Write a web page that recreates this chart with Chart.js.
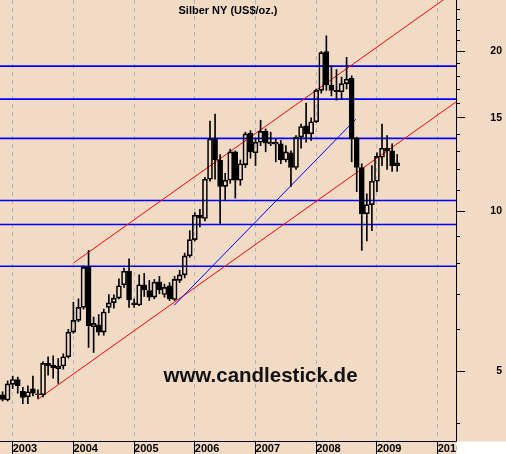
<!DOCTYPE html>
<html>
<head>
<meta charset="utf-8">
<script src="https://cdn.jsdelivr.net/npm/chart.js@4.4.0/dist/chart.umd.min.js"></script>
<style>
  html, body { margin: 0; padding: 0; background: #f2dbc4; }
  #wrap { width: 506px; height: 454px; }
</style>
</head>
<body>
<div id="wrap"><canvas id="myChart"></canvas></div>
<script>
// monthly candles, Nov 2002 .. May 2009
const firstMonth = 2002 + 10 / 12;
const open = [
  4.52, 4.42,
  4.73, 4.83, 4.59, 4.48, 4.64, 4.52, 4.52, 5.18, 5.14, 5.06, 5.12, 5.33,
  5.93, 6.24, 6.60, 7.85, 6.07, 6.12, 5.93, 6.60, 6.74, 6.87, 7.28, 7.72,
  6.73, 6.67, 7.28, 7.10, 6.90, 7.37, 6.98, 7.25, 6.83, 7.42, 7.60, 8.25,
  8.85, 9.84, 9.70, 11.5, 13.7, 12.5, 11.15, 11.45, 12.95, 11.45, 12.25, 14.05,
  12.9, 13.5, 14.15, 13.4, 13.5, 13.4, 12.5, 12.9, 12.1, 13.8, 14.5, 14.0,
  14.75, 16.9, 20.0, 17.3, 16.9, 16.8, 17.4, 17.8, 13.75, 12.1, 9.9, 10.3,
  11.4, 12.65, 13.15, 13.0, 12.2
];
const high = [
  4.58, 4.80,
  4.90, 4.88, 4.67, 4.70, 4.90, 4.62, 5.22, 5.33, 5.35, 5.29, 5.40, 6.00,
  6.75, 6.85, 7.90, 8.45, 6.33, 6.40, 6.55, 6.98, 6.97, 7.47, 7.83, 8.15,
  6.85, 7.60, 7.65, 7.42, 7.45, 7.55, 7.30, 7.35, 7.55, 7.75, 8.35, 9.20,
  9.95, 10.1, 11.6, 14.8, 15.25, 12.8, 11.8, 13.1, 13.0, 12.5, 14.1, 14.2,
  13.7, 14.85, 14.3, 14.1, 13.7, 13.6, 13.3, 13.0, 13.9, 14.6, 16.0, 15.0,
  17.0, 20.0, 21.4, 18.8, 18.5, 17.9, 19.5, 18.0, 13.8, 12.3, 10.8, 12.2,
  12.9, 14.6, 13.9, 13.4, 12.8
];
const low = [
  4.40, 4.40,
  4.64, 4.55, 4.35, 4.35, 4.50, 4.45, 4.48, 4.92, 4.86, 4.75, 5.05, 5.30,
  5.90, 6.20, 6.55, 5.55, 5.43, 5.85, 5.85, 6.45, 6.58, 6.85, 7.20, 6.60,
  6.60, 6.65, 6.92, 6.80, 6.85, 7.00, 6.90, 6.80, 6.80, 7.35, 7.50, 8.20,
  8.80, 9.35, 9.60, 11.4, 11.5, 9.50, 10.5, 11.3, 10.6, 11.2, 12.1, 12.6,
  12.2, 13.3, 12.95, 13.3, 12.4, 12.3, 12.4, 11.15, 12.0, 13.15, 13.5, 13.6,
  14.7, 16.7, 16.9, 16.5, 16.2, 16.3, 17.0, 12.4, 10.9, 8.45, 8.80, 9.20,
  10.9, 12.2, 12.0, 11.9, 11.9
];
const close = [
  4.43, 4.74,
  4.83, 4.70, 4.47, 4.58, 4.55, 4.54, 5.18, 5.13, 5.08, 5.12, 5.33, 5.93,
  6.24, 6.60, 7.85, 6.10, 6.16, 5.93, 6.47, 6.73, 6.87, 7.25, 7.72, 6.82,
  6.68, 7.28, 7.12, 6.90, 7.36, 7.13, 7.20, 6.85, 7.45, 7.60, 8.25, 8.85,
  9.84, 9.73, 11.5, 13.7, 12.5, 11.15, 11.45, 12.95, 11.45, 12.3, 14.0, 12.95,
  13.5, 14.15, 13.45, 13.5, 13.38, 12.5, 12.95, 12.1, 13.8, 14.45, 14.0, 14.75,
  16.9, 19.9, 17.3, 16.9, 16.8, 17.4, 17.75, 13.7, 12.1, 9.9, 10.3, 11.4,
  12.7, 13.15, 13.0, 12.2, 12.35
];

// support / resistance levels and trend lines (year, price)
const levels = [18.77, 16.27, 13.73, 10.49, 9.45, 7.89];
const channelLow = [[2003.41, 4.43], [2010.30, 16.07]];
const channelHigh = [[2004.0, 8.0], [2010.30, 26.0]];
const trendLine = [[2005.66, 6.66], [2008.65, 14.91]];

const priceTicks = [5, 10, 15, 20];
const minorTicks = [4, 6, 7, 8, 9, 11, 12, 13, 14, 16, 17, 18, 19, 21, 22, 23, 24];

const xMin = 2002.791, xMax = 2010.302;
const bg = '#f2dbc4';
const fontFam = "'Liberation Sans', Arial, sans-serif";

const months = open.map((_, i) => firstMonth + i / 12);

const bodies = months.map((x, i) => ({ x: x, y: [open[i], close[i]] }));
const upperWicks = months.map((x, i) => ({ x: x, y: [Math.max(open[i], close[i]), high[i]] }));
const lowerWicks = months.map((x, i) => ({ x: x, y: [low[i], Math.min(open[i], close[i])] }));

function seg(pts, color, width) {
  return {
    type: 'line',
    data: pts.map(p => ({ x: p[0], y: p[1] })),
    borderColor: color,
    borderWidth: width,
    pointRadius: 0,
    tension: 0
  };
}

const decor = {
  id: 'decor',
  beforeDraw(chart) {
    const ctx = chart.ctx;
    ctx.save();
    ctx.fillStyle = bg;
    ctx.fillRect(0, 0, chart.width, chart.height);
    ctx.restore();
  },
  afterDraw(chart) {
    const ctx = chart.ctx;
    const a = chart.chartArea;
    const y = chart.scales.y;
    ctx.save();
    // minor ticks on price axis
    ctx.strokeStyle = '#000';
    ctx.lineWidth = 1;
    minorTicks.forEach(v => {
      const py = Math.round(y.getPixelForValue(v)) + 0.5;
      ctx.beginPath();
      ctx.moveTo(a.right, py);
      ctx.lineTo(a.right + 4, py);
      ctx.stroke();
    });
    // blank corner
    ctx.fillStyle = '#fff';
    ctx.fillRect(a.right + 0.5, a.bottom + 0.5, chart.width, chart.height);
    // title
    ctx.fillStyle = '#000';
    ctx.font = 'bold 11px ' + fontFam;
    ctx.textAlign = 'center';
    ctx.textBaseline = 'alphabetic';
    ctx.fillText('Silber NY (US$/oz.)', 228, 14);
    // watermark
    ctx.fillStyle = '#111';
    ctx.font = 'bold 20.5px ' + fontFam;
    ctx.fillText('www.candlestick.de', 260.5, 381.5);
    ctx.restore();
  }
};

const ctx = document.getElementById('myChart').getContext('2d');
const myChart = new Chart(ctx, {
  type: 'bar',
  data: {
    datasets: [
      {
        data: bodies,
        backgroundColor: bodies.map(b => b.y[1] >= b.y[0] ? 'rgba(0,0,0,0)' : '#000'),
        borderColor: '#000',
        borderWidth: 1,
        borderSkipped: false,
        barThickness: 5,
        grouped: false
      },
      {
        data: upperWicks,
        backgroundColor: '#000',
        borderWidth: 0,
        barThickness: 1,
        grouped: false
      },
      {
        data: lowerWicks,
        backgroundColor: '#000',
        borderWidth: 0,
        barThickness: 1,
        grouped: false
      },
      seg(trendLine, '#0000ff', 1),
      seg(channelLow, '#ff0000', 1),
      seg(channelHigh, '#ff0000', 1),
      ...levels.map(v => seg([[xMin, v], [xMax, v]], '#0000ff', 1.6))
    ]
  },
  options: {
    responsive: true,
    maintainAspectRatio: false,
    animation: false,
    layout: { padding: { left: 0, top: 0, bottom: 0, right: 4 } },
    plugins: {
      legend: { display: false },
      tooltip: { enabled: false },
      title: { display: false }
    },
    scales: {
      x: {
        type: 'linear',
        position: 'bottom',
        min: xMin,
        max: xMax,
        offset: false,
        grid: {
          offset: false,
          color: '#b4b4b4',
          lineWidth: 1,
          tickLength: 13,
          tickColor: '#000',
          tickBorderDash: []
        },
        border: { color: '#000', width: 1, dash: [4, 4] },
        ticks: {
          stepSize: 1,
          includeBounds: false,
          autoSkip: false,
          maxRotation: 0,
          align: 'start',
          padding: -12,
          color: '#000',
          font: { family: fontFam, size: 11, weight: 'bold' },
          callback: v => Number.isInteger(v) ? String(v) : ''
        },
        afterFit: s => {
          s.height = 13;
          s.paddingLeft = 0;
          s.paddingRight = 0;
        }
      },
      y: {
        type: 'logarithmic',
        position: 'right',
        min: 3.7,
        max: 25,
        grid: {
          drawOnChartArea: false,
          tickLength: 9,
          tickColor: c => priceTicks.includes(c.tick.value) ? '#000' : 'rgba(0,0,0,0)'
        },
        border: { color: '#000', width: 1 },
        afterBuildTicks: s => {
          s.ticks = priceTicks.concat(minorTicks).sort((a, b) => a - b).map(v => ({ value: v }));
        },
        ticks: {
          crossAlign: 'far',
          padding: 22,
          color: '#000',
          font: { family: fontFam, size: 10.5, weight: 'bold' },
          callback: v => priceTicks.includes(v) ? String(v) : ''
        },
        afterFit: s => {
          s.width = 46;
          s.paddingTop = 0;
          s.paddingBottom = 0;
        }
      }
    }
  },
  plugins: [decor]
});
</script>
</body>
</html>
